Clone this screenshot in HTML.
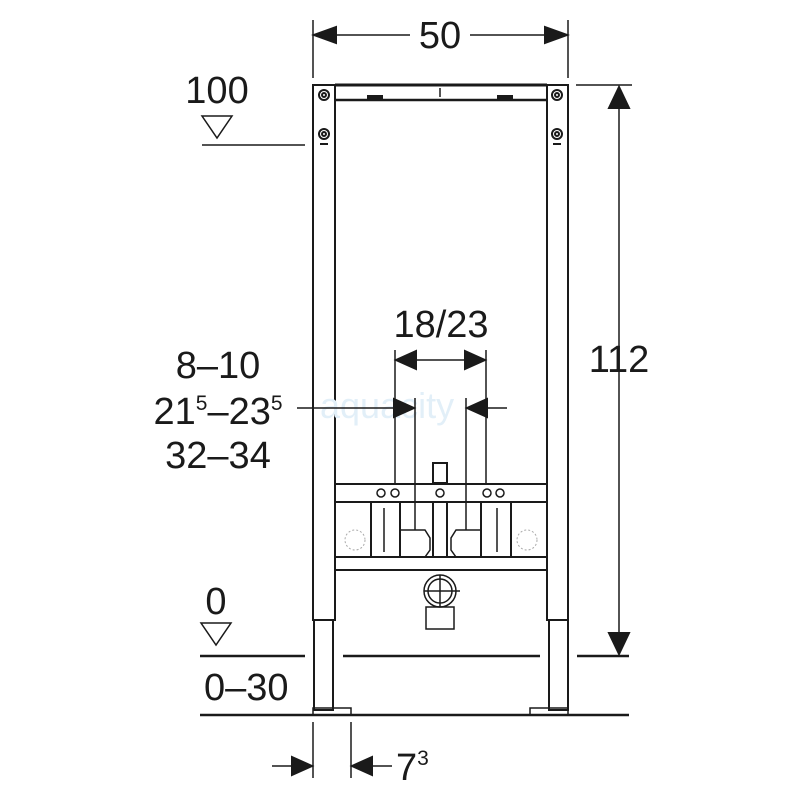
<!DOCTYPE html>
<html><head><style>body{margin:0;background:#fff}svg{display:block}text{font-family:"Liberation Sans",sans-serif;fill:#1a1a1a}</style></head>
<body>
<svg width="800" height="800" viewBox="0 0 800 800" stroke="#1a1a1a" fill="none" stroke-width="2">
<line x1="313" y1="20" x2="313" y2="78" stroke-width="1.5"/>
<line x1="568" y1="20" x2="568" y2="78" stroke-width="1.5"/>
<line x1="330" y1="35" x2="410" y2="35" stroke-width="1.5"/>
<line x1="470" y1="35" x2="550" y2="35" stroke-width="1.5"/>
<polygon points="314,35 336,27 336,43" fill="#1a1a1a"/>
<polygon points="567,35 545,27 545,43" fill="#1a1a1a"/>
<text x="440" y="48" font-size="38" text-anchor="middle" stroke="none">50</text>
<text x="217" y="103" font-size="38" text-anchor="middle" stroke="none">100</text>
<polygon points="202,116 232,116 217,138" stroke-width="1.5"/>
<line x1="202" y1="145" x2="305" y2="145" stroke-width="1.5"/>
<rect x="313" y="85" width="22" height="535"/>
<rect x="547" y="85" width="21" height="535"/>
<rect x="314" y="620" width="19" height="90"/>
<rect x="549" y="620" width="19" height="90"/>
<line x1="335" y1="85" x2="547" y2="85" stroke-width="3"/>
<line x1="335" y1="100" x2="547" y2="100" stroke-width="2.5"/>
<line x1="440" y1="88" x2="440" y2="97" stroke-width="1.5"/>
<rect x="368" y="96" width="14" height="4" fill="#1a1a1a"/>
<rect x="498" y="96" width="14" height="4" fill="#1a1a1a"/>
<circle cx="324" cy="95" r="5"/><circle cx="324" cy="95" r="2"/>
<circle cx="557" cy="95" r="5"/><circle cx="557" cy="95" r="2"/>
<circle cx="324" cy="134" r="5"/><circle cx="324" cy="134" r="2"/><line x1="320" y1="144" x2="328" y2="144"/>
<circle cx="557" cy="134" r="5"/><circle cx="557" cy="134" r="2"/><line x1="553" y1="144" x2="561" y2="144"/>
<rect x="313" y="708" width="38" height="7" stroke-width="1.5"/>
<rect x="530" y="708" width="38" height="7" stroke-width="1.5"/>
<line x1="576" y1="85" x2="632" y2="85" stroke-width="1.5"/>
<line x1="619" y1="105" x2="619" y2="635" stroke-width="1.5"/>
<polygon points="619,87 609,108 629,108" fill="#1a1a1a"/>
<polygon points="619,654 609,633 629,633" fill="#1a1a1a"/>
<text x="619" y="372" font-size="38" text-anchor="middle" stroke="none">112</text>
<line x1="200" y1="656" x2="305" y2="656" stroke-width="2.5"/>
<line x1="343" y1="656" x2="540" y2="656" stroke-width="2.5"/>
<line x1="577" y1="656" x2="629" y2="656" stroke-width="2.5"/>
<line x1="200" y1="715" x2="629" y2="715" stroke-width="2.5"/>
<text x="216" y="614" font-size="38" text-anchor="middle" stroke="none">0</text>
<polygon points="201,623 231,623 216,645" stroke-width="1.5"/>
<text x="204" y="700" font-size="38" stroke="none">0–30</text>
<line x1="313" y1="722" x2="313" y2="778" stroke-width="1.5"/>
<line x1="351" y1="722" x2="351" y2="778" stroke-width="1.5"/>
<line x1="272" y1="766" x2="300" y2="766" stroke-width="1.5"/>
<polygon points="312,766 292,757 292,775" fill="#1a1a1a"/>
<line x1="362" y1="766" x2="392" y2="766" stroke-width="1.5"/>
<polygon points="352,766 372,757 372,775" fill="#1a1a1a"/>
<text x="396" y="780" font-size="38" stroke="none">7<tspan font-size="21" dy="-15">3</tspan></text>
<text x="218" y="378" font-size="38" text-anchor="middle" stroke="none">8–10</text>
<text x="218" y="424" font-size="38" text-anchor="middle" stroke="none">21<tspan font-size="21" dy="-14">5</tspan><tspan dy="14">–23</tspan><tspan font-size="21" dy="-14">5</tspan></text>
<text x="218" y="468" font-size="38" text-anchor="middle" stroke="none">32–34</text>
<text x="441" y="337" font-size="38" text-anchor="middle" stroke="none">18/23</text>
<text x="320" y="418" font-size="36" stroke="none" style="fill:#e2eff8">aquacity</text>
<line x1="395" y1="350" x2="395" y2="485" stroke-width="1.5"/>
<line x1="486" y1="350" x2="486" y2="485" stroke-width="1.5"/>
<line x1="415" y1="398" x2="415" y2="530" stroke-width="1.5"/>
<line x1="466" y1="398" x2="466" y2="530" stroke-width="1.5"/>
<line x1="410" y1="360" x2="472" y2="360" stroke-width="1.5"/>
<polygon points="396,360 416,351 416,369" fill="#1a1a1a"/>
<polygon points="485,360 465,351 465,369" fill="#1a1a1a"/>
<line x1="297" y1="408" x2="400" y2="408" stroke-width="1.5"/>
<polygon points="414,408 394,399 394,417" fill="#1a1a1a"/>
<line x1="480" y1="408" x2="507" y2="408" stroke-width="1.5"/>
<polygon points="467,408 487,399 487,417" fill="#1a1a1a"/>
<rect x="433" y="463" width="14" height="20"/>
<rect x="335" y="484" width="212" height="18"/>
<rect x="335" y="557" width="212" height="13"/>
<line x1="371" y1="502" x2="371" y2="557"/>
<line x1="400" y1="502" x2="400" y2="557"/>
<line x1="433" y1="502" x2="433" y2="557"/>
<line x1="447" y1="502" x2="447" y2="557"/>
<line x1="481" y1="502" x2="481" y2="557"/>
<line x1="511" y1="502" x2="511" y2="557"/>
<g stroke-width="1.5">
<circle cx="381" cy="493" r="4"/><circle cx="395" cy="493" r="4"/><circle cx="440" cy="493" r="4"/><circle cx="487" cy="493" r="4"/><circle cx="500" cy="493" r="4"/>
<line x1="384" y1="508" x2="384" y2="552"/><line x1="497" y1="508" x2="497" y2="552"/>
<polygon points="400,530 425,530 430,538 430,550 425,557 400,557"/>
<polygon points="481,530 456,530 451,538 451,550 456,557 481,557"/>
<circle cx="440" cy="591" r="16"/><circle cx="440" cy="591" r="12"/>
<line x1="440" y1="575" x2="440" y2="607"/><line x1="424" y1="591" x2="460" y2="591"/>
<rect x="426" y="607" width="28" height="22"/>
</g>
<g stroke="#aaa" stroke-width="1" stroke-dasharray="2,2">
<circle cx="355" cy="540" r="10"/><circle cx="527" cy="540" r="10"/>
</g>
</svg>
</body></html>
